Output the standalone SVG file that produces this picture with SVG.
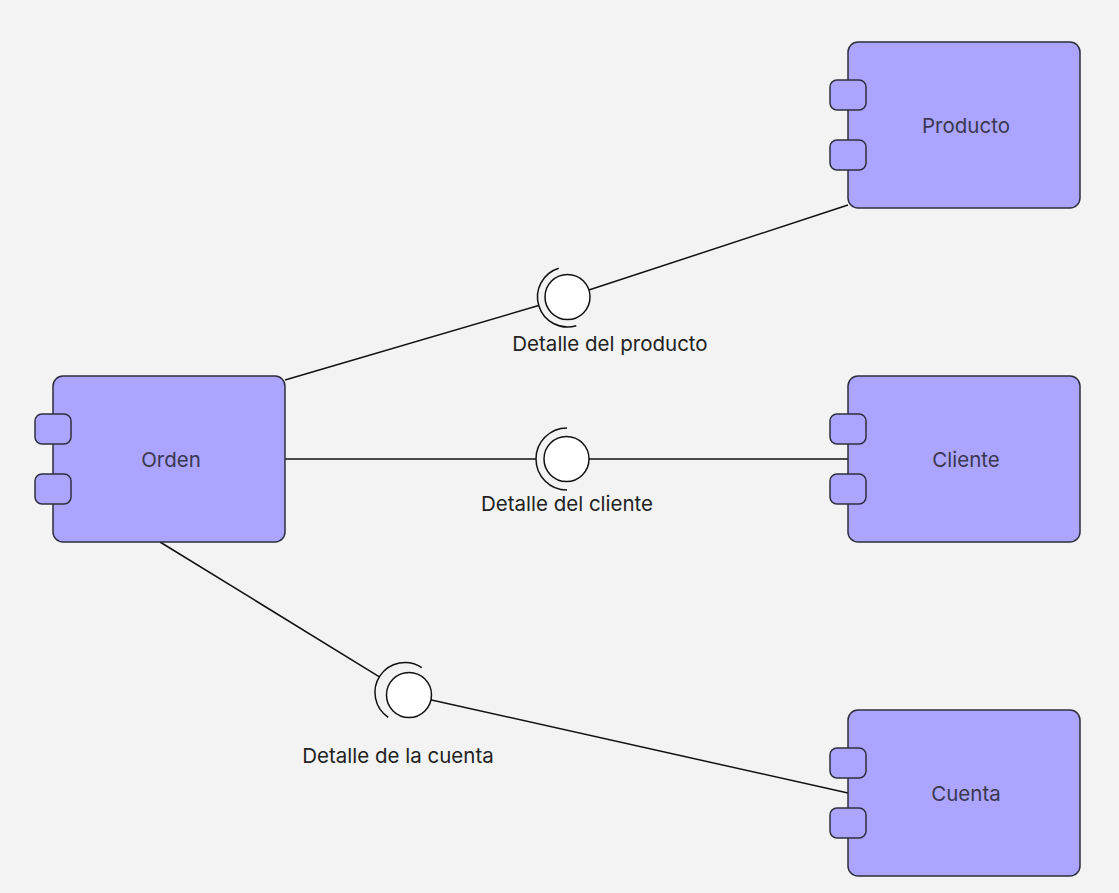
<svg xmlns="http://www.w3.org/2000/svg" width="1119" height="893" viewBox="0 0 1119 893">
<style>
.box{fill:#aba5ff;stroke:#2f2f3d;stroke-width:1.5}
.lbl{font-family:Inter,"Open Sans","Liberation Sans",sans-serif;font-size:20.5px;fill:#3a3850;text-anchor:middle}
.cap{font-family:Inter,"Open Sans","Liberation Sans",sans-serif;font-size:20.5px;fill:#222;text-anchor:middle}
.ln{stroke:#111;stroke-width:1.5;fill:none}
.ball{fill:#fff;stroke:#111;stroke-width:1.5}
</style>
<rect width="1119" height="893" fill="#f3f3f3"/>
<g id="connectors">
<line class="ln" x1="285" y1="380" x2="538.7" y2="305.5"/>
<line class="ln" x1="567.5" y1="297" x2="848" y2="205"/>
<line class="ln" x1="285" y1="459" x2="536" y2="459"/>
<line class="ln" x1="566.5" y1="459" x2="848" y2="459"/>
<line class="ln" x1="160" y1="542" x2="379.4" y2="676.8"/>
<line class="ln" x1="409" y1="695" x2="848" y2="793"/>
</g>
<g id="iface-producto">
<path class="ln" d="M558.7 268.3 A30 30 0 0 0 576.3 325.7"/>
<circle class="ball" cx="567.5" cy="297" r="22.5"/>
<text class="cap" x="610" y="351">Detalle del producto</text>
</g>
<g id="iface-cliente">
<path class="ln" d="M567 428 A31 31 0 0 0 567 490"/>
<circle class="ball" cx="566.5" cy="459" r="22.5"/>
<text class="cap" x="567" y="511">Detalle del cliente</text>
</g>
<g id="iface-cuenta">
<path class="ln" d="M421.8 667.6 A30 30 0 0 0 388.2 717.4"/>
<circle class="ball" cx="409" cy="695" r="22.5"/>
<text class="cap" x="398" y="763">Detalle de la cuenta</text>
</g>
<g id="orden">
<rect class="box" x="53" y="376" width="232" height="166" rx="10"/>
<rect class="box" x="35" y="414" width="36" height="30" rx="7"/>
<rect class="box" x="35" y="474" width="36" height="30" rx="7"/>
<text class="lbl" x="171" y="467">Orden</text>
</g>
<g id="producto">
<rect class="box" x="848" y="42" width="232" height="166" rx="10"/>
<rect class="box" x="830" y="80" width="36" height="30" rx="7"/>
<rect class="box" x="830" y="140" width="36" height="30" rx="7"/>
<text class="lbl" x="966" y="133">Producto</text>
</g>
<g id="cliente">
<rect class="box" x="848" y="376" width="232" height="166" rx="10"/>
<rect class="box" x="830" y="414" width="36" height="30" rx="7"/>
<rect class="box" x="830" y="474" width="36" height="30" rx="7"/>
<text class="lbl" x="966" y="467">Cliente</text>
</g>
<g id="cuenta">
<rect class="box" x="848" y="710" width="232" height="166" rx="10"/>
<rect class="box" x="830" y="748" width="36" height="30" rx="7"/>
<rect class="box" x="830" y="808" width="36" height="30" rx="7"/>
<text class="lbl" x="966" y="801">Cuenta</text>
</g>
</svg>
